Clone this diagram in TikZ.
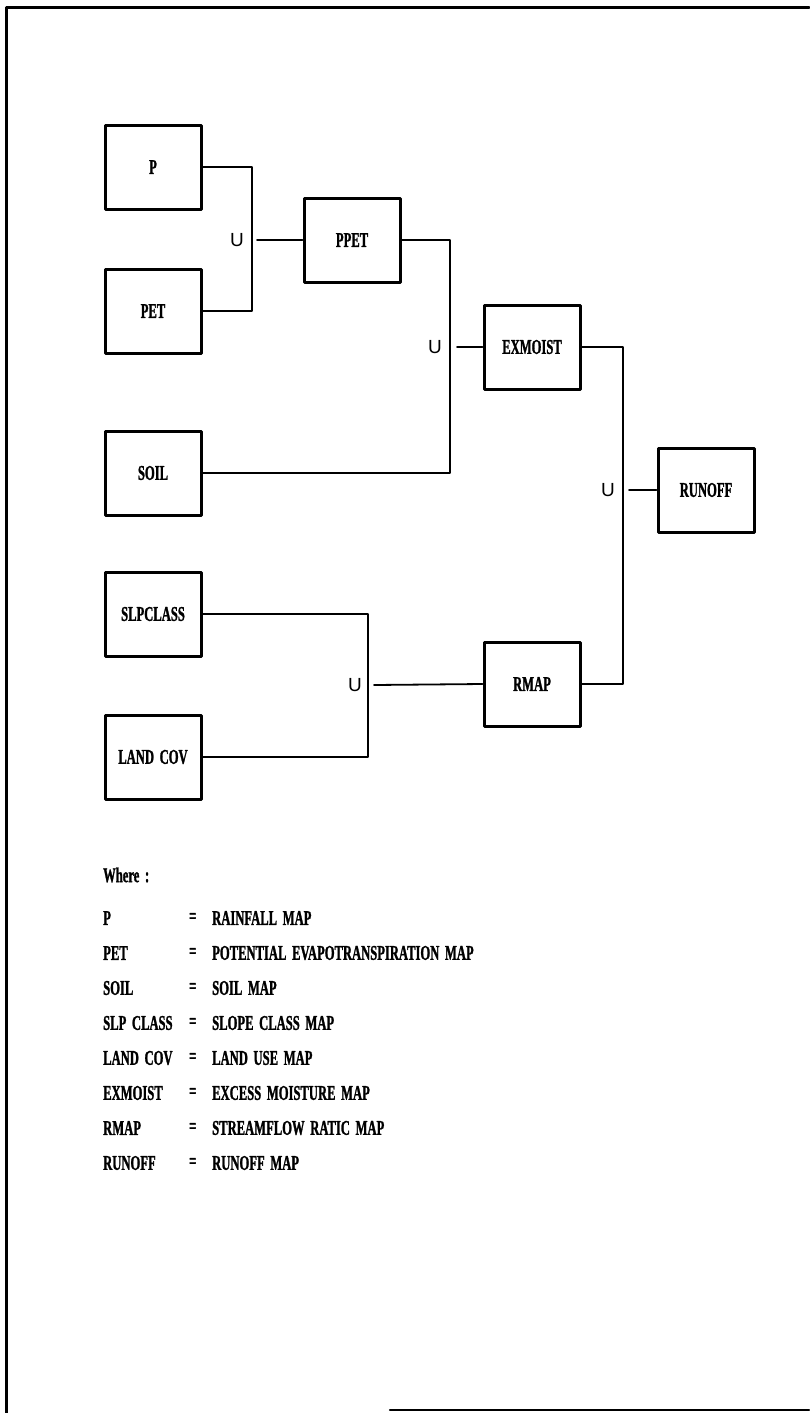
\documentclass[tikz,border=0pt]{standalone}
\usepackage{fontspec}
\setmainfont{Liberation Serif}[FakeStretch=0.6, FakeBold=1.2, WordSpace=1.8]
\newfontfamily\unionfont{Liberation Sans}
\begin{document}
\begin{tikzpicture}[x=1pt, y=-1pt, font=\fontsize{21}{24}\selectfont\bfseries, line join=round, line cap=round,
		mapbox/.style={draw, line width=3pt, minimum width=96pt, minimum height=84pt, inner sep=2pt},
		link/.style={line width=1.8pt},
		union/.style={font=\unionfont\fontsize{19}{20}\selectfont, inner sep=0pt},
		legend/.style={anchor=west, inner sep=0pt}]
			\useasboundingbox (0,0) rectangle (809,1413);
			
			% frame
			\draw[line width=3pt] (6,1413) -- (6,8) -- (809,8);
			\draw[line width=2.5pt] (390,1410) -- (809,1410);
			
			% input maps
			\node[mapbox] (p) at (153,167) {P};
			\node[mapbox] (pet) at (153,311) {PET};
			\node[mapbox] (soil) at (153,473) {SOIL};
			\node[mapbox] (slp) at (153,614) {SLPCLASS};
			\node[mapbox] (land) at (153,757) {LAND COV};
			
			% derived maps
			\node[mapbox] (ppet) at (352,240) {PPET};
			\node[mapbox] (exm) at (532,347) {EXMOIST};
			\node[mapbox] (rmap) at (532,684) {RMAP};
			\node[mapbox] (runoff) at (706,490) {RUNOFF};
			
			% junctions
			\coordinate (j1) at (252,240);
			\coordinate (j1o) at (257,240);
			\coordinate (j2) at (450,347);
			\coordinate (j2o) at (457,347);
			\coordinate (j3) at (623,490);
			\coordinate (j3o) at (629,490);
			\coordinate (j4) at (368,685);
			\coordinate (j4o) at (374,685);
			
			\node[union] (u1) at (237,240) {U};
			\node[union] (u2) at (435,347) {U};
			\node[union] (u3) at (608,490) {U};
			\node[union] (u4) at (355,685) {U};
			
			\draw[link] (p.east) -| (j1) |- (pet.east);
			\draw[link] (j1o) -- (ppet.west);
			\draw[link] (ppet.east) -| (j2) |- (soil.east);
			\draw[link] (j2o) -- (exm.west);
			\draw[link] (slp.east) -| (j4) |- (land.east);
			\draw[link] (j4o) -- (rmap.west);
			\draw[link] (exm.east) -| (j3) |- (rmap.east);
			\draw[link] (j3o) -- (runoff.west);
			
			% legend
			\node[legend] (where) at (103,875) {Where :};
			\foreach \abbr/\full [count=\i] in {P/RAINFALL MAP, PET/POTENTIAL EVAPOTRANSPIRATION MAP, SOIL/SOIL MAP, SLP CLASS/SLOPE CLASS MAP, LAND COV/LAND USE MAP, EXMOIST/EXCESS MOISTURE MAP, RMAP/STREAMFLOW RATIC MAP, RUNOFF/RUNOFF MAP} {
				\node[legend] (abbr\i) at (103,883+35*\i) {\abbr};
				\node[legend] (eq\i) at (189,883+35*\i) {=};
				\node[legend] (full\i) at (212,883+35*\i) {\full};
			}
		\end{tikzpicture}
\end{document}
